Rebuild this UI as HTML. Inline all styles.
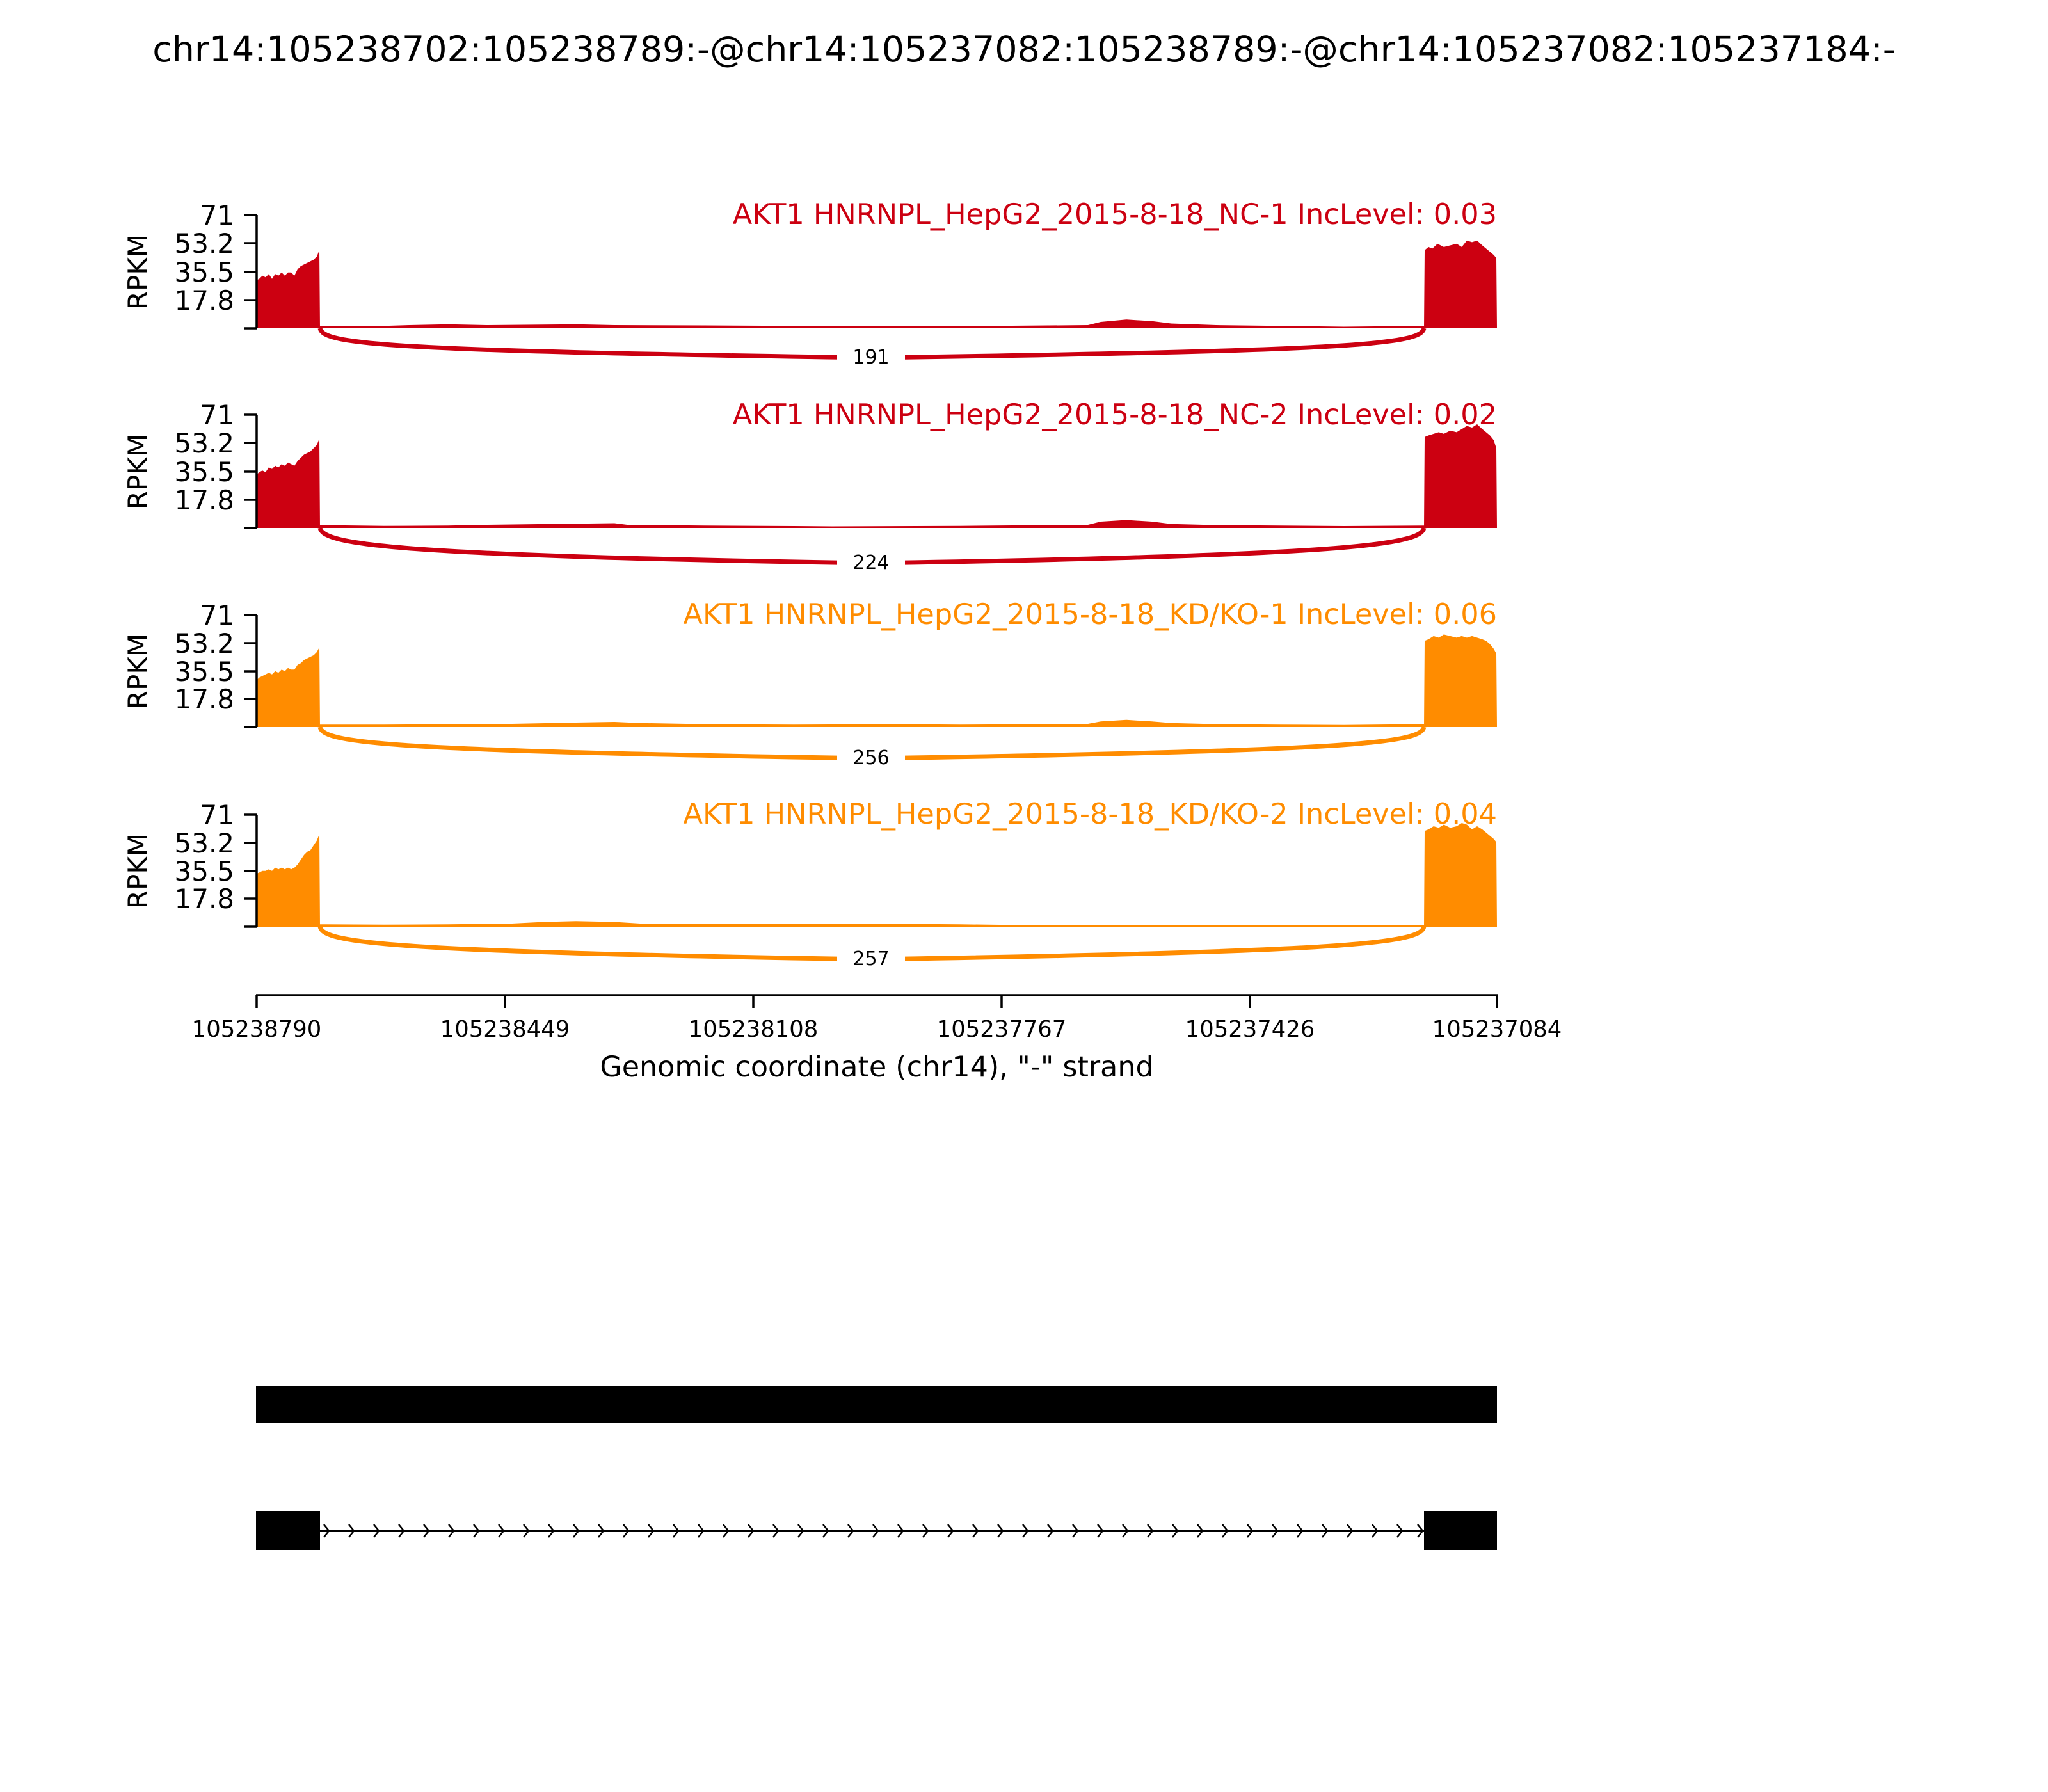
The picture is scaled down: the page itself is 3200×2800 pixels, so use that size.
<!DOCTYPE html>
<html><head><meta charset="utf-8"><style>
html,body{margin:0;padding:0;background:#fff}
svg{display:block}
text{font-family:"DejaVu Sans","Liberation Sans",sans-serif}
</style></head><body>
<svg width="3200" height="2800" viewBox="0 0 3200 2800" xmlns="http://www.w3.org/2000/svg">
<rect width="3200" height="2800" fill="#fff"/>
<text x="1600" y="96" font-size="55.5" text-anchor="middle">chr14:105238702:105238789:-@chr14:105237082:105238789:-@chr14:105237082:105237184:-</text>

<!-- Panel 1 -->
<g>
<g transform="translate(0,513) scale(1,-2.493)" fill="#CC0011">
<path d="M400,0 L400,30 405,31 410,33 415,32 420,34 425,31 430,34 435,33 440,35 445,33 450,35 455,35 460,33 465,37 470,39 475,40 480,41 485,42 490,43 495,45 499,49 500,0Z"/>
<path d="M500,0 L500,1.5 600,1.5 640,2 700,2.5 760,2 900,2.5 960,2 1100,1.8 1240,1.5 1300,1.5 1500,1.3 1700,2 1720,4 1760,5.5 1800,4.5 1830,3 1900,2 2000,1.5 2100,1 2225,1.5 2225,0Z"/>
<path d="M2225,0 L2226,49 2232,51 2238,50 2246,53 2256,51 2266,52 2276,53 2284,51 2292,55 2300,54 2308,55 2316,52 2322,50 2328,48 2334,46 2338,44 2339,0Z"/>
</g>
<path d="M500,513 C505,538 600,548 1361,559 C2120,548 2220,538 2225,513" fill="none" stroke="#CC0011" stroke-width="7"/>
<rect x="1308" y="540" width="106" height="36" fill="#fff"/>
<text x="1361" y="568" font-size="30" text-anchor="middle">191</text>
<text x="2339" y="350" font-size="44.6" text-anchor="end" fill="#CC0011">AKT1 HNRNPL_HepG2_2015-8-18_NC-1 IncLevel: 0.03</text>
</g>

<!-- Panel 2 -->
<g>
<g transform="translate(0,825) scale(1,-2.493)" fill="#CC0011">
<path d="M400,0 L400,33 405,35 410,36 415,35 420,38 425,37 430,39 435,38 440,40 445,39 450,41 455,40 460,39 465,42 470,44 475,46 480,47 485,48 490,50 495,52 499,56 500,0Z"/>
<path d="M500,0 L500,1.8 600,1.3 700,1.5 760,2 860,2.5 960,3 980,2 1100,1.5 1240,1.2 1300,1 1500,1.3 1700,2 1720,4 1760,5 1800,4 1830,2.5 1900,1.8 2000,1.5 2100,1.2 2225,1.5 2225,0Z"/>
<path d="M2225,0 L2226,57 2232,58 2240,59 2248,60 2256,59 2266,61 2276,60 2284,62 2292,64 2300,63 2308,65 2316,62 2322,60 2328,58 2334,55 2338,50 2339,0Z"/>
</g>
<path d="M500,825 C505,850 600,868 1361,880 C2120,868 2220,850 2225,825" fill="none" stroke="#CC0011" stroke-width="7"/>
<rect x="1308" y="861" width="106" height="36" fill="#fff"/>
<text x="1361" y="889" font-size="30" text-anchor="middle">224</text>
<text x="2339" y="663" font-size="44.6" text-anchor="end" fill="#CC0011">AKT1 HNRNPL_HepG2_2015-8-18_NC-2 IncLevel: 0.02</text>
</g>

<!-- Panel 3 -->
<g>
<g transform="translate(0,1136) scale(1,-2.493)" fill="#FF8C00">
<path d="M400,0 L400,29 405,31 410,32 415,33 420,34 425,33 430,35 435,34 440,36 445,35 450,37 455,36 460,36 465,39 470,40 475,42 480,43 485,44 490,45 495,47 499,50 500,0Z"/>
<path d="M500,0 L500,1.5 600,1.5 700,1.8 800,2 900,2.8 960,3.2 1000,2.5 1100,1.8 1240,1.5 1400,1.8 1500,1.5 1700,2 1720,3.5 1760,4.5 1800,3.5 1830,2.5 1900,1.8 2000,1.5 2100,1.3 2225,1.8 2225,0Z"/>
<path d="M2225,0 L2226,54 2232,55 2240,57 2248,56 2256,58 2266,57 2276,56 2284,57 2292,56 2300,57 2308,56 2316,55 2322,54 2328,52 2334,49 2338,46 2339,0Z"/>
</g>
<path d="M500,1136 C505,1161 600,1173 1361,1185 C2120,1173 2220,1161 2225,1136" fill="none" stroke="#FF8C00" stroke-width="7"/>
<rect x="1308" y="1166" width="106" height="36" fill="#fff"/>
<text x="1361" y="1194" font-size="30" text-anchor="middle">256</text>
<text x="2339" y="975" font-size="44.6" text-anchor="end" fill="#FF8C00">AKT1 HNRNPL_HepG2_2015-8-18_KD/KO-1 IncLevel: 0.06</text>
</g>

<!-- Panel 4 -->
<g>
<g transform="translate(0,1448) scale(1,-2.493)" fill="#FF8C00">
<path d="M400,0 L400,33 405,34 410,35 415,35 420,36 425,35 430,37 435,36 440,37 445,36 450,37 455,36 460,37 465,39 470,42 475,45 480,47 485,48 490,51 495,54 499,58 500,0Z"/>
<path d="M500,0 L500,1.5 600,1.3 700,1.5 800,2 850,3 900,3.5 960,3 1000,2 1100,1.8 1240,1.8 1400,1.8 1500,1.5 1600,1 1800,1 1900,1 2000,0.8 2100,0.8 2225,1 2225,0Z"/>
<path d="M2225,0 L2226,60 2232,61 2240,63 2248,62 2256,64 2266,62 2276,63 2284,65 2292,64 2300,61 2308,63 2316,61 2322,59 2328,57 2334,55 2338,53 2339,0Z"/>
</g>
<path d="M500,1448 C505,1473 600,1487 1361,1499 C2120,1487 2220,1473 2225,1448" fill="none" stroke="#FF8C00" stroke-width="7"/>
<rect x="1308" y="1480" width="106" height="36" fill="#fff"/>
<text x="1361" y="1508" font-size="30" text-anchor="middle">257</text>
<text x="2339" y="1287" font-size="44.6" text-anchor="end" fill="#FF8C00">AKT1 HNRNPL_HepG2_2015-8-18_KD/KO-2 IncLevel: 0.04</text>
</g>

<!-- Y axes -->
<g stroke="#000" stroke-width="3.5" fill="none">
<path d="M401,336 V513 M381,336 H401 M381,380 H401 M381,425 H401 M381,469 H401 M381,513 H401"/>
<path d="M401,648 V825 M381,648 H401 M381,692 H401 M381,737 H401 M381,781 H401 M381,825 H401"/>
<path d="M401,961 V1136 M381,961 H401 M381,1005 H401 M381,1049 H401 M381,1092 H401 M381,1136 H401"/>
<path d="M401,1273 V1448 M381,1273 H401 M381,1317 H401 M381,1361 H401 M381,1404 H401 M381,1448 H401"/>
</g>
<g font-size="42" text-anchor="end">
<text x="366" y="351">71</text><text x="366" y="395">53.2</text><text x="366" y="440">35.5</text><text x="366" y="484">17.8</text>
<text x="366" y="663">71</text><text x="366" y="707">53.2</text><text x="366" y="752">35.5</text><text x="366" y="796">17.8</text>
<text x="366" y="976">71</text><text x="366" y="1020">53.2</text><text x="366" y="1064">35.5</text><text x="366" y="1107">17.8</text>
<text x="366" y="1288">71</text><text x="366" y="1332">53.2</text><text x="366" y="1376">35.5</text><text x="366" y="1419">17.8</text>
</g>
<g font-size="42" text-anchor="middle">
<text transform="translate(230,425) rotate(-90)">RPKM</text>
<text transform="translate(230,737) rotate(-90)">RPKM</text>
<text transform="translate(230,1049) rotate(-90)">RPKM</text>
<text transform="translate(230,1361) rotate(-90)">RPKM</text>
</g>

<!-- X axis -->
<g stroke="#000" stroke-width="3.5" fill="none">
<path d="M400,1555 H2340 M401,1555 V1575 M789,1555 V1575 M1177,1555 V1575 M1565,1555 V1575 M1953,1555 V1575 M2339,1555 V1575"/>
</g>
<g font-size="35.4" text-anchor="middle">
<text x="401" y="1620">105238790</text>
<text x="789" y="1620">105238449</text>
<text x="1177" y="1620">105238108</text>
<text x="1565" y="1620">105237767</text>
<text x="1953" y="1620">105237426</text>
<text x="2339" y="1620">105237084</text>
</g>
<text x="1370" y="1682" font-size="44.4" text-anchor="middle">Genomic coordinate (chr14), "-" strand</text>

<!-- Gene model -->
<rect x="400" y="2165" width="1939" height="59" fill="#000"/>
<rect x="400" y="2361" width="100" height="61" fill="#000"/>
<rect x="2225" y="2361" width="114" height="61" fill="#000"/>
<line x1="500" y1="2392" x2="2225" y2="2392" stroke="#000" stroke-width="3"/>
<path fill="none" stroke="#000" stroke-width="2.5" d="M506,2382 l8,10 l-8,10 M545,2382 l8,10 l-8,10 M584,2382 l8,10 l-8,10 M623,2382 l8,10 l-8,10 M662,2382 l8,10 l-8,10 M701,2382 l8,10 l-8,10 M740,2382 l8,10 l-8,10 M779,2382 l8,10 l-8,10 M818,2382 l8,10 l-8,10 M857,2382 l8,10 l-8,10 M896,2382 l8,10 l-8,10 M935,2382 l8,10 l-8,10 M974,2382 l8,10 l-8,10 M1013,2382 l8,10 l-8,10 M1052,2382 l8,10 l-8,10 M1091,2382 l8,10 l-8,10 M1130,2382 l8,10 l-8,10 M1169,2382 l8,10 l-8,10 M1208,2382 l8,10 l-8,10 M1247,2382 l8,10 l-8,10 M1286,2382 l8,10 l-8,10 M1325,2382 l8,10 l-8,10 M1364,2382 l8,10 l-8,10 M1403,2382 l8,10 l-8,10 M1442,2382 l8,10 l-8,10 M1481,2382 l8,10 l-8,10 M1520,2382 l8,10 l-8,10 M1559,2382 l8,10 l-8,10 M1598,2382 l8,10 l-8,10 M1637,2382 l8,10 l-8,10 M1676,2382 l8,10 l-8,10 M1715,2382 l8,10 l-8,10 M1754,2382 l8,10 l-8,10 M1793,2382 l8,10 l-8,10 M1832,2382 l8,10 l-8,10 M1871,2382 l8,10 l-8,10 M1910,2382 l8,10 l-8,10 M1949,2382 l8,10 l-8,10 M1988,2382 l8,10 l-8,10 M2027,2382 l8,10 l-8,10 M2066,2382 l8,10 l-8,10 M2105,2382 l8,10 l-8,10 M2144,2382 l8,10 l-8,10 M2183,2382 l8,10 l-8,10 M2215,2382 l8,10 l-8,10"/>
</svg>
</body></html>
